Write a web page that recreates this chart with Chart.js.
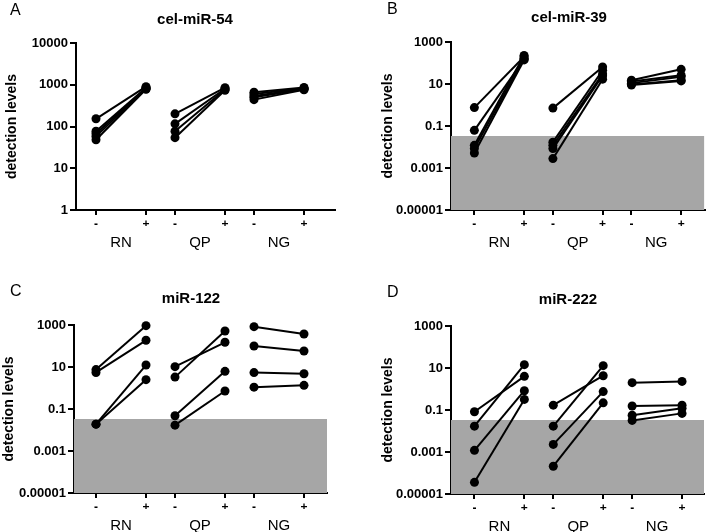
<!DOCTYPE html>
<html>
<head>
<meta charset="utf-8">
<script src="https://cdn.jsdelivr.net/npm/chart.js@4.4.0/dist/chart.umd.min.js"></script>
<style>
  body { margin: 0; background: #fff; }
  #wrap { position: relative; width: 709px; height: 532px; }
  canvas { position: absolute; }
</style>
</head>
<body>
<div id="wrap">
  <canvas id="panelA" width="354" height="266" style="left:0;top:0"></canvas>
  <canvas id="panelB" width="355" height="266" style="left:354px;top:0"></canvas>
  <canvas id="panelC" width="354" height="266" style="left:0;top:266px"></canvas>
  <canvas id="panelD" width="355" height="266" style="left:354px;top:266px"></canvas>
</div>
<script>
// lanes on the x axis: "-" and "+" for each kit
const lanePos = [0, 1, 1.58, 2.58, 3.16, 4.16];
const laneLabels = ['-', '+', '-', '+', '-', '+'];
const groups = ['RN', 'QP', 'NG'];
const groupPos = [0.5, 2.08, 3.66];

// y ticks
const ticksA = [1, 10, 100, 1000, 10000];
const tickLabelsA = ['1', '10', '100', '1000', '10000'];
const ticksBCD = [0.00001, 0.001, 0.1, 10, 1000];
const tickLabelsBCD = ['0.00001', '0.001', '0.1', '10', '1000'];

// detection limit (grey band) for B, C, D
const detectionLimit = 0.033;

// A - cel-miR-54
const aRNneg = [153, 77, 67, 58, 48];
const aRNpos = [900, 850, 820, 800, 780];
const aQPneg = [201, 116, 77, 54];
const aQPpos = [850, 800, 770, 740];
const aNGneg = [660, 600, 540, 500, 440];
const aNGpos = [860, 820, 800, 780, 760];

// B - cel-miR-39
const bRNneg = [0.75, 0.062, 0.012, 0.0084, 0.0052];
const bRNpos = [200, 150, 230, 170, 140];
const bQPneg = [0.71, 0.017, 0.012, 0.0084, 0.0028];
const bQPpos = [65, 45, 30, 25, 17];
const bNGneg = [15, 13, 11, 9.6, 9];
const bNGpos = [50, 26, 22, 15, 14];

// C - miR-122
const cRNneg = [7.5, 5.5, 0.019, 0.019];
const cRNpos = [930, 187, 12.4, 2.5];
const cQPneg = [10.4, 3.3, 0.048, 0.017];
const cQPpos = [150, 517, 6.2, 0.72];
const cNGneg = [833, 100, 5.4, 1.1];
const cNGpos = [373, 58, 4.8, 1.34];

// D - miR-222
const dRNneg = [0.083, 0.017, 0.0012, 0.000036];
const dRNpos = [4, 14.4, 0.83, 0.32];
const dQPneg = [0.17, 0.017, 0.0023, 0.00021];
const dQPpos = [4.3, 12.9, 0.75, 0.22];
const dNGneg = [2.0, 0.155, 0.056, 0.032];
const dNGpos = [2.3, 0.17, 0.12, 0.069];

Chart.defaults.font.family = '"Liberation Sans", Arial, sans-serif';
Chart.defaults.color = '#000';

// letter + title of each panel
const panelText = {
  id: 'panelText',
  afterDraw(chart, args, o) {
    const ctx = chart.ctx;
    ctx.save();
    ctx.fillStyle = '#000';
    ctx.textBaseline = 'middle';
    ctx.textAlign = 'left';
    ctx.font = '16px "Liberation Sans", Arial, sans-serif';
    ctx.fillText(o.letter, o.letterX, o.letterY);
    ctx.textAlign = 'center';
    ctx.font = 'bold 15px "Liberation Sans", Arial, sans-serif';
    ctx.fillText(o.title, o.titleX, o.titleY);
    ctx.restore();
  }
};

// one line (two dots) per sample
function pairs(neg, pos, g) {
  return neg.map((v, i) => ({
    data: [{x: lanePos[g * 2], y: v}, {x: lanePos[g * 2 + 1], y: pos[i]}],
    borderColor: '#000',
    borderWidth: 2,
    backgroundColor: '#000',
    pointRadius: 4.5,
    pointBorderWidth: 0,
    fill: false,
    clip: false
  }));
}

function makePanel(id, p) {
  let datasets = [];
  p.series.forEach((s, gi) => {
    datasets = datasets.concat(pairs(s[0], s[1], gi));
  });
  if (p.limit) {
    datasets.push({
      data: [{x: p.xMin, y: p.limit}, {x: p.xMax, y: p.limit}],
      fill: 'start',
      backgroundColor: '#a6a6a6',
      borderWidth: 0,
      pointRadius: 0
    });
  }

  return new Chart(document.getElementById(id), {
    type: 'line',
    data: { datasets: datasets },
    plugins: [panelText],
    options: {
      responsive: false,
      animation: false,
      layout: { padding: { left: p.padLeft, right: p.padRight, top: p.top, bottom: p.padBottom } },
      plugins: {
        legend: { display: false },
        tooltip: { enabled: false },
        panelText: p.text
      },
      scales: {
        x: {
          type: 'linear',
          min: p.xMin,
          max: p.xMax,
          weight: 0,
          border: { color: '#000', width: 2 },
          grid: { drawOnChartArea: false, color: '#000', lineWidth: 2, tickLength: 5 },
          ticks: {
            autoSkip: false, maxRotation: 0, padding: 2,
            font: { size: 12, weight: 'bold' },
            callback: (v, i) => laneLabels[i]
          },
          afterBuildTicks: s => { s.ticks = lanePos.map(v => ({value: v})); },
          afterFit: s => { s.height = 16; }
        },
        xg: {
          type: 'linear',
          position: 'bottom',
          min: p.xMin,
          max: p.xMax,
          weight: 1,
          border: { display: false },
          grid: { display: false },
          ticks: {
            autoSkip: false, maxRotation: 0, padding: 0,
            font: { size: 15 },
            callback: (v, i) => groups[i]
          },
          afterBuildTicks: s => { s.ticks = groupPos.map(v => ({value: v})); },
          afterFit: s => { s.height = p.groupH; }
        },
        y: {
          type: 'logarithmic',
          min: p.yTicks[0],
          max: p.yTicks[p.yTicks.length - 1],
          border: { color: '#000', width: 2 },
          grid: { drawOnChartArea: false, color: '#000', lineWidth: 2, tickLength: 6 },
          ticks: {
            padding: 2,
            font: { size: 13, weight: 'bold' },
            callback: (v, i) => p.yLabels[i]
          },
          afterBuildTicks: s => { s.ticks = p.yTicks.map(v => ({value: v})); },
          afterFit: s => { s.width = p.yWidth; },
          title: {
            display: true,
            text: 'detection levels',
            font: { size: 14, weight: 'bold' },
            padding: { top: p.titlePad, bottom: 0 }
          }
        }
      }
    }
  });
}

makePanel('panelA', {
  series: [[aRNneg, aRNpos], [aQPneg, aQPpos], [aNGneg, aNGpos]],
  limit: null,
  yTicks: ticksA, yLabels: tickLabelsA,
  xMin: -0.4, xMax: 4.78,
  padLeft: 0, yWidth: 76, padRight: 19, top: 43, groupH: 30, padBottom: 10, titlePad: 4,
  text: { letter: 'A', letterX: 10, letterY: 11, title: 'cel-miR-54', titleX: 195, titleY: 20 }
});

makePanel('panelB', {
  series: [[bRNneg, bRNpos], [bQPneg, bQPpos], [bNGneg, bNGpos]],
  limit: detectionLimit,
  yTicks: ticksBCD, yLabels: tickLabelsBCD,
  xMin: -0.47, xMax: 4.63,
  padLeft: 22, yWidth: 75, padRight: 3, top: 42, groupH: 30, padBottom: 10, titlePad: 4,
  text: { letter: 'B', letterX: 33, letterY: 10, title: 'cel-miR-39', titleX: 215, titleY: 18 }
});

makePanel('panelC', {
  series: [[cRNneg, cRNpos], [cQPneg, cQPpos], [cNGneg, cNGpos]],
  limit: detectionLimit,
  yTicks: ticksBCD, yLabels: tickLabelsBCD,
  xMin: -0.44, xMax: 4.62,
  padLeft: 0, yWidth: 74, padRight: 27, top: 59, groupH: 23, padBottom: 0, titlePad: 1,
  text: { letter: 'C', letterX: 10, letterY: 26, title: 'miR-122', titleX: 191, titleY: 33 }
});

makePanel('panelD', {
  series: [[dRNneg, dRNpos], [dQPneg, dQPpos], [dNGneg, dNGpos]],
  limit: detectionLimit,
  yTicks: ticksBCD, yLabels: tickLabelsBCD,
  xMin: -0.47, xMax: 4.6,
  padLeft: 22, yWidth: 75, padRight: 5, top: 60, groupH: 22, padBottom: 0, titlePad: 4,
  text: { letter: 'D', letterX: 33, letterY: 27, title: 'miR-222', titleX: 214, titleY: 34 }
});
</script>
</body>
</html>
